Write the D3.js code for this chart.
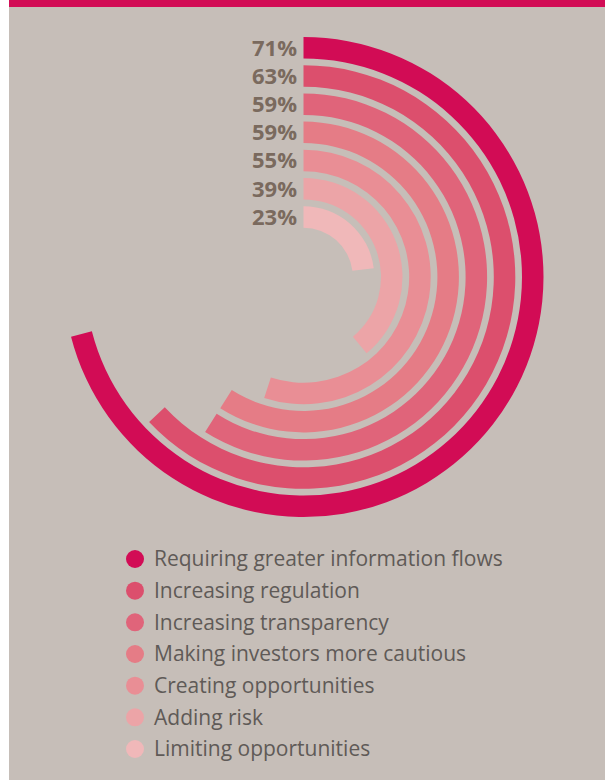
<!DOCTYPE html>
<html>
<head>
<meta charset="utf-8">
<script src="https://cdn.jsdelivr.net/npm/d3@7"></script>
<style>
  html, body { margin: 0; padding: 0; background: #ffffff; }
  svg { display: block; }
</style>
</head>
<body>
<svg id="chart" width="605" height="781"></svg>
<script>
// Share of respondents per effect, outermost ring first
const categories = [
  "Requiring greater information flows",
  "Increasing regulation",
  "Increasing transparency",
  "Making investors more cautious",
  "Creating opportunities",
  "Adding risk",
  "Limiting opportunities"
];
const values = [71, 63, 59, 59, 55, 39, 23];
const colors = ["#d20c55", "#dc4f6d", "#e0647a", "#e57c86", "#e98e95", "#eca4a7", "#f0b8b9"];

const svg = d3.select("#chart");
const W = 605, H = 781;

// panel background and top rule
svg.append("rect").attr("x", 9).attr("y", 0).attr("width", W - 9).attr("height", 780).attr("fill", "#c6beb8");
svg.append("rect").attr("x", 9).attr("y", 0).attr("width", W - 9).attr("height", 7).attr("fill", "#d20c55");

const cx = 303.5, cy = 277;
const outerR = 240, pitch = 28.2, thick = 21.5;

const angle = d3.scaleLinear().domain([0, 100]).range([0, 2 * Math.PI]);
const ring = d3.scaleLinear().domain([0, categories.length - 1]).range([outerR, outerR - pitch * (categories.length - 1)]);

const arc = d3.arc()
  .innerRadius((d, i) => ring(i) - thick)
  .outerRadius((d, i) => ring(i))
  .startAngle(0)
  .endAngle(d => angle(d));

const g = svg.append("g").attr("transform", `translate(${cx},${cy})`);

g.selectAll("path.bar")
  .data(values)
  .join("path")
  .attr("class", "bar")
  .attr("d", (d, i) => arc(d, i))
  .attr("fill", (d, i) => colors[i]);

// value labels beside the start of each ring
g.selectAll("text.val")
  .data(values)
  .join("text")
  .attr("class", "val")
  .attr("x", -6.5)
  .attr("y", (d, i) => -(ring(i) - thick / 2))
  .attr("dy", "0.36em")
  .attr("text-anchor", "end")
  .attr("font-family", "'Open Sans', sans-serif")
  .attr("font-weight", 700)
  .attr("font-size", 22)
  .attr("fill", "#7a6a5e")
  .text(d => d + "%");

// legend
const legendY = d3.scaleLinear().domain([0, categories.length - 1]).range([559, 749]);
const lg = svg.append("g");
const rows = lg.selectAll("g.row")
  .data(categories)
  .join("g")
  .attr("class", "row")
  .attr("transform", (d, i) => `translate(135,${legendY(i)})`);

rows.append("circle")
  .attr("r", 9)
  .attr("fill", (d, i) => colors[i]);

rows.append("text")
  .attr("x", 19)
  .attr("dy", "0.35em")
  .attr("font-family", "'Open Sans', sans-serif")
  .attr("font-size", 21)
  .attr("fill", "#5f5a57")
  .text(d => d);
</script>
</body>
</html>
